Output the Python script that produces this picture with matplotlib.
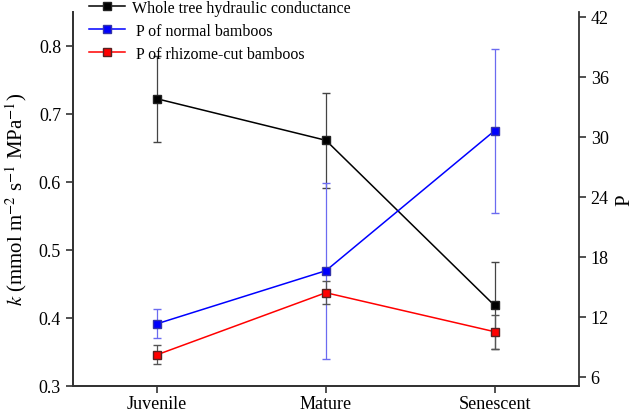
import matplotlib
matplotlib.use('Agg')
from matplotlib import pyplot as plt

plt.rcParams['font.family'] = ['Liberation Serif', 'DejaVu Serif']
plt.rcParams['mathtext.fontset'] = 'stix'

stages = ['Juvenile', 'Mature', 'Senescent']
k_mean = [0.722, 0.661, 0.418]
k_err = [0.063, 0.070, 0.064]
p_normal = [11.3, 16.6, 30.6]
p_normal_err = [1.45, 8.8, 8.2]
p_cut = [8.2, 14.4, 10.5]
p_cut_err = [0.95, 1.15, 1.7]

font_size = 13
x = range(len(stages))

fig = plt.figure(figsize=(6.34, 4.14), dpi=100)
ax = fig.add_axes([0.115, 0.066, 0.798, 0.903])
ax2 = ax.twinx()

e1 = ax.errorbar(x, k_mean, yerr=k_err, color='k', marker='s', ms=6, mec='#222222',
                 lw=1.1, elinewidth=0.9, ecolor='#444444', capsize=3, zorder=3)
e2 = ax2.errorbar(x, p_normal, yerr=p_normal_err, color='#0000ff', marker='s', ms=6, mec='#3333aa',
                  lw=1.1, elinewidth=0.9, ecolor='#6b6bf0', capsize=3)
e3 = ax2.errorbar(x, p_cut, yerr=p_cut_err, color='#ff0000', marker='s', ms=6, mec='#552222',
                  lw=1.1, elinewidth=0.9, ecolor='#555555', capsize=3)

ax.set_xlim(-0.5, 2.5)
ax.set_ylim(0.3, 0.85)
ax.set_yticks([0.3, 0.4, 0.5, 0.6, 0.7, 0.8])
ax2.set_ylim(5.1, 42.5)
ax2.set_yticks([6, 12, 18, 24, 30, 36, 42])
ax.set_xticks(list(x))
ax.set_xticklabels(stages)

for a in (ax, ax2):
    a.spines['top'].set_visible(False)
    for s in a.spines.values():
        s.set_linewidth(1.3)
        s.set_color('#333333')
    a.tick_params(labelsize=font_size, direction='out', length=5, width=1.2, color='#333333')
ax.spines['right'].set_visible(False)
ax.tick_params(axis='x', pad=1.5)

ax.set_ylabel('$k$ (mmol m$^{-2}$ s$^{-1}$ MPa$^{-1}$)', fontsize=15, labelpad=7)
ax2.set_ylabel('P', fontsize=15, labelpad=5)

# legend shows only line + marker, no error bars
labels = ['Whole tree hydraulic conductance', ' P of normal bamboos', ' P of rhizome-cut bamboos']
fig.legend([e1[0], e2[0], e3[0]], labels, loc='upper left', bbox_to_anchor=(0.127, 1.018), frameon=False,
           fontsize=11.5, handlelength=2.3, handletextpad=0.4, labelspacing=0.45, borderpad=0,
           markerscale=0.85)

plt.savefig('out.png', dpi=100)
